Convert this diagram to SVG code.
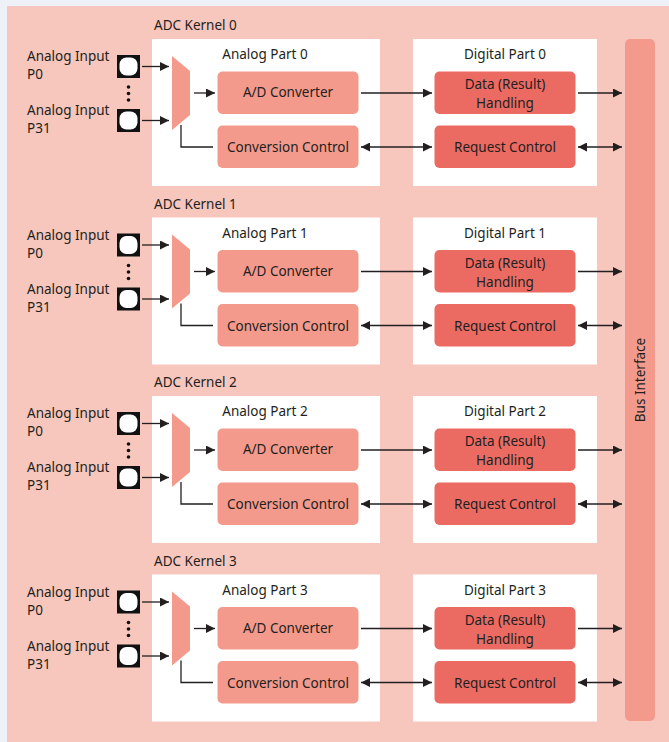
<svg xmlns="http://www.w3.org/2000/svg" width="669" height="742" viewBox="0 0 669 742">
<defs>
<style>
text{font-family:"Noto Sans","Liberation Sans",sans-serif;font-size:13.5px;fill:#231f20}
.c{text-anchor:middle}
.panel{fill:#ffffff}
.mid{fill:#f39a8c}
.dark{fill:#eb6b63}
.ln{fill:none;stroke:#231f20;stroke-width:1.3}
</style>
<marker id="ah" viewBox="0 0 10 10" refX="10" refY="5" markerWidth="9" markerHeight="9" markerUnits="userSpaceOnUse" orient="auto-start-reverse">
<path d="M0,0 L10,5 L0,10 z" fill="#231f20"/>
</marker>
<g id="pad">
<rect x="0" y="0" width="23" height="23" fill="#111"/>
<rect x="2.5" y="2.5" width="18" height="18" rx="7" fill="#fff"/>
</g>
</defs>
<rect x="0" y="0" width="669" height="742" fill="#eef2f8"/>
<rect x="7" y="6" width="662" height="736" fill="#f7c6bc"/>
<g id="bus-interface">
<rect x="625" y="39" width="30" height="682" rx="5" class="mid"/>
<text class="c" transform="translate(645,380) rotate(-90)">Bus Interface</text>
</g>

<g id="kernel0">
<text x="154" y="30">ADC Kernel 0</text>
<g id="inputs0"><text x="27" y="61">Analog Input</text><text x="27" y="79">P0</text><text x="27" y="115">Analog Input</text><text x="27" y="133">P31</text>
<use href="#pad" x="117" y="55"/><use href="#pad" x="117" y="109"/>
<circle cx="128.5" cy="87" r="1.8" fill="#111"/><circle cx="128.5" cy="93.5" r="1.8" fill="#111"/><circle cx="128.5" cy="100" r="1.8" fill="#111"/></g>
<g id="analog0"><rect x="152" y="39" width="228" height="147" class="panel"/><text class="c" x="265" y="59">Analog Part 0</text></g>
<g id="mux0"><polygon points="172,56 190,71 190,115 172,130" class="mid"/></g>
<g id="adc0"><rect x="217.5" y="71.5" width="141" height="42.5" rx="5" class="mid"/><text class="c" x="288" y="97">A/D Converter</text></g>
<g id="convctl0"><rect x="217.5" y="125.5" width="141" height="42.5" rx="5" class="mid"/><text class="c" x="288" y="152">Conversion Control</text></g>
<g id="digital0"><rect x="413" y="39" width="184" height="147" class="panel"/><text class="c" x="505" y="59">Digital Part 0</text></g>
<g id="data0"><rect x="434.5" y="71.5" width="141" height="42.5" rx="5" class="dark"/><text class="c" x="505" y="89">Data (Result)</text><text class="c" x="505" y="108">Handling</text></g>
<g id="req0"><rect x="434.5" y="125.5" width="141" height="42.5" rx="5" class="dark"/><text class="c" x="505" y="152">Request Control</text></g>
</g>

<g id="kernel1" transform="translate(0,178.5)">
<text x="154" y="30">ADC Kernel 1</text>
<g id="inputs1"><text x="27" y="61">Analog Input</text><text x="27" y="79">P0</text><text x="27" y="115">Analog Input</text><text x="27" y="133">P31</text>
<use href="#pad" x="117" y="55"/><use href="#pad" x="117" y="109"/>
<circle cx="128.5" cy="87" r="1.8" fill="#111"/><circle cx="128.5" cy="93.5" r="1.8" fill="#111"/><circle cx="128.5" cy="100" r="1.8" fill="#111"/></g>
<g id="analog1"><rect x="152" y="39" width="228" height="147" class="panel"/><text class="c" x="265" y="59">Analog Part 1</text></g>
<g id="mux1"><polygon points="172,56 190,71 190,115 172,130" class="mid"/></g>
<g id="adc1"><rect x="217.5" y="71.5" width="141" height="42.5" rx="5" class="mid"/><text class="c" x="288" y="97">A/D Converter</text></g>
<g id="convctl1"><rect x="217.5" y="125.5" width="141" height="42.5" rx="5" class="mid"/><text class="c" x="288" y="152">Conversion Control</text></g>
<g id="digital1"><rect x="413" y="39" width="184" height="147" class="panel"/><text class="c" x="505" y="59">Digital Part 1</text></g>
<g id="data1"><rect x="434.5" y="71.5" width="141" height="42.5" rx="5" class="dark"/><text class="c" x="505" y="89">Data (Result)</text><text class="c" x="505" y="108">Handling</text></g>
<g id="req1"><rect x="434.5" y="125.5" width="141" height="42.5" rx="5" class="dark"/><text class="c" x="505" y="152">Request Control</text></g>
</g>

<g id="kernel2" transform="translate(0,357)">
<text x="154" y="30">ADC Kernel 2</text>
<g id="inputs2"><text x="27" y="61">Analog Input</text><text x="27" y="79">P0</text><text x="27" y="115">Analog Input</text><text x="27" y="133">P31</text>
<use href="#pad" x="117" y="55"/><use href="#pad" x="117" y="109"/>
<circle cx="128.5" cy="87" r="1.8" fill="#111"/><circle cx="128.5" cy="93.5" r="1.8" fill="#111"/><circle cx="128.5" cy="100" r="1.8" fill="#111"/></g>
<g id="analog2"><rect x="152" y="39" width="228" height="147" class="panel"/><text class="c" x="265" y="59">Analog Part 2</text></g>
<g id="mux2"><polygon points="172,56 190,71 190,115 172,130" class="mid"/></g>
<g id="adc2"><rect x="217.5" y="71.5" width="141" height="42.5" rx="5" class="mid"/><text class="c" x="288" y="97">A/D Converter</text></g>
<g id="convctl2"><rect x="217.5" y="125.5" width="141" height="42.5" rx="5" class="mid"/><text class="c" x="288" y="152">Conversion Control</text></g>
<g id="digital2"><rect x="413" y="39" width="184" height="147" class="panel"/><text class="c" x="505" y="59">Digital Part 2</text></g>
<g id="data2"><rect x="434.5" y="71.5" width="141" height="42.5" rx="5" class="dark"/><text class="c" x="505" y="89">Data (Result)</text><text class="c" x="505" y="108">Handling</text></g>
<g id="req2"><rect x="434.5" y="125.5" width="141" height="42.5" rx="5" class="dark"/><text class="c" x="505" y="152">Request Control</text></g>
</g>

<g id="kernel3" transform="translate(0,535.5)">
<text x="154" y="30">ADC Kernel 3</text>
<g id="inputs3"><text x="27" y="61">Analog Input</text><text x="27" y="79">P0</text><text x="27" y="115">Analog Input</text><text x="27" y="133">P31</text>
<use href="#pad" x="117" y="55"/><use href="#pad" x="117" y="109"/>
<circle cx="128.5" cy="87" r="1.8" fill="#111"/><circle cx="128.5" cy="93.5" r="1.8" fill="#111"/><circle cx="128.5" cy="100" r="1.8" fill="#111"/></g>
<g id="analog3"><rect x="152" y="39" width="228" height="147" class="panel"/><text class="c" x="265" y="59">Analog Part 3</text></g>
<g id="mux3"><polygon points="172,56 190,71 190,115 172,130" class="mid"/></g>
<g id="adc3"><rect x="217.5" y="71.5" width="141" height="42.5" rx="5" class="mid"/><text class="c" x="288" y="97">A/D Converter</text></g>
<g id="convctl3"><rect x="217.5" y="125.5" width="141" height="42.5" rx="5" class="mid"/><text class="c" x="288" y="152">Conversion Control</text></g>
<g id="digital3"><rect x="413" y="39" width="184" height="147" class="panel"/><text class="c" x="505" y="59">Digital Part 3</text></g>
<g id="data3"><rect x="434.5" y="71.5" width="141" height="42.5" rx="5" class="dark"/><text class="c" x="505" y="89">Data (Result)</text><text class="c" x="505" y="108">Handling</text></g>
<g id="req3"><rect x="434.5" y="125.5" width="141" height="42.5" rx="5" class="dark"/><text class="c" x="505" y="152">Request Control</text></g>
</g>

<g id="connectors">
<g id="conn0">
<line x1="142" y1="66.5" x2="169" y2="66.5" class="ln" marker-end="url(#ah)"/>
<line x1="142" y1="120.5" x2="169" y2="120.5" class="ln" marker-end="url(#ah)"/>
<line x1="194" y1="93" x2="215" y2="93" class="ln" marker-end="url(#ah)"/>
<polyline points="181,125 181,147 213,147" class="ln"/>
<line x1="361" y1="93" x2="432" y2="93" class="ln" marker-end="url(#ah)"/>
<line x1="361" y1="147" x2="432" y2="147" class="ln" marker-start="url(#ah)" marker-end="url(#ah)"/>
<line x1="578" y1="93" x2="622" y2="93" class="ln" marker-end="url(#ah)"/>
<line x1="578" y1="147" x2="622" y2="147" class="ln" marker-start="url(#ah)" marker-end="url(#ah)"/>
</g>
<g id="conn1" transform="translate(0,178.5)">
<line x1="142" y1="66.5" x2="169" y2="66.5" class="ln" marker-end="url(#ah)"/>
<line x1="142" y1="120.5" x2="169" y2="120.5" class="ln" marker-end="url(#ah)"/>
<line x1="194" y1="93" x2="215" y2="93" class="ln" marker-end="url(#ah)"/>
<polyline points="181,125 181,147 213,147" class="ln"/>
<line x1="361" y1="93" x2="432" y2="93" class="ln" marker-end="url(#ah)"/>
<line x1="361" y1="147" x2="432" y2="147" class="ln" marker-start="url(#ah)" marker-end="url(#ah)"/>
<line x1="578" y1="93" x2="622" y2="93" class="ln" marker-end="url(#ah)"/>
<line x1="578" y1="147" x2="622" y2="147" class="ln" marker-start="url(#ah)" marker-end="url(#ah)"/>
</g>
<g id="conn2" transform="translate(0,357)">
<line x1="142" y1="66.5" x2="169" y2="66.5" class="ln" marker-end="url(#ah)"/>
<line x1="142" y1="120.5" x2="169" y2="120.5" class="ln" marker-end="url(#ah)"/>
<line x1="194" y1="93" x2="215" y2="93" class="ln" marker-end="url(#ah)"/>
<polyline points="181,125 181,147 213,147" class="ln"/>
<line x1="361" y1="93" x2="432" y2="93" class="ln" marker-end="url(#ah)"/>
<line x1="361" y1="147" x2="432" y2="147" class="ln" marker-start="url(#ah)" marker-end="url(#ah)"/>
<line x1="578" y1="93" x2="622" y2="93" class="ln" marker-end="url(#ah)"/>
<line x1="578" y1="147" x2="622" y2="147" class="ln" marker-start="url(#ah)" marker-end="url(#ah)"/>
</g>
<g id="conn3" transform="translate(0,535.5)">
<line x1="142" y1="66.5" x2="169" y2="66.5" class="ln" marker-end="url(#ah)"/>
<line x1="142" y1="120.5" x2="169" y2="120.5" class="ln" marker-end="url(#ah)"/>
<line x1="194" y1="93" x2="215" y2="93" class="ln" marker-end="url(#ah)"/>
<polyline points="181,125 181,147 213,147" class="ln"/>
<line x1="361" y1="93" x2="432" y2="93" class="ln" marker-end="url(#ah)"/>
<line x1="361" y1="147" x2="432" y2="147" class="ln" marker-start="url(#ah)" marker-end="url(#ah)"/>
<line x1="578" y1="93" x2="622" y2="93" class="ln" marker-end="url(#ah)"/>
<line x1="578" y1="147" x2="622" y2="147" class="ln" marker-start="url(#ah)" marker-end="url(#ah)"/>
</g>
</g>
</svg>
